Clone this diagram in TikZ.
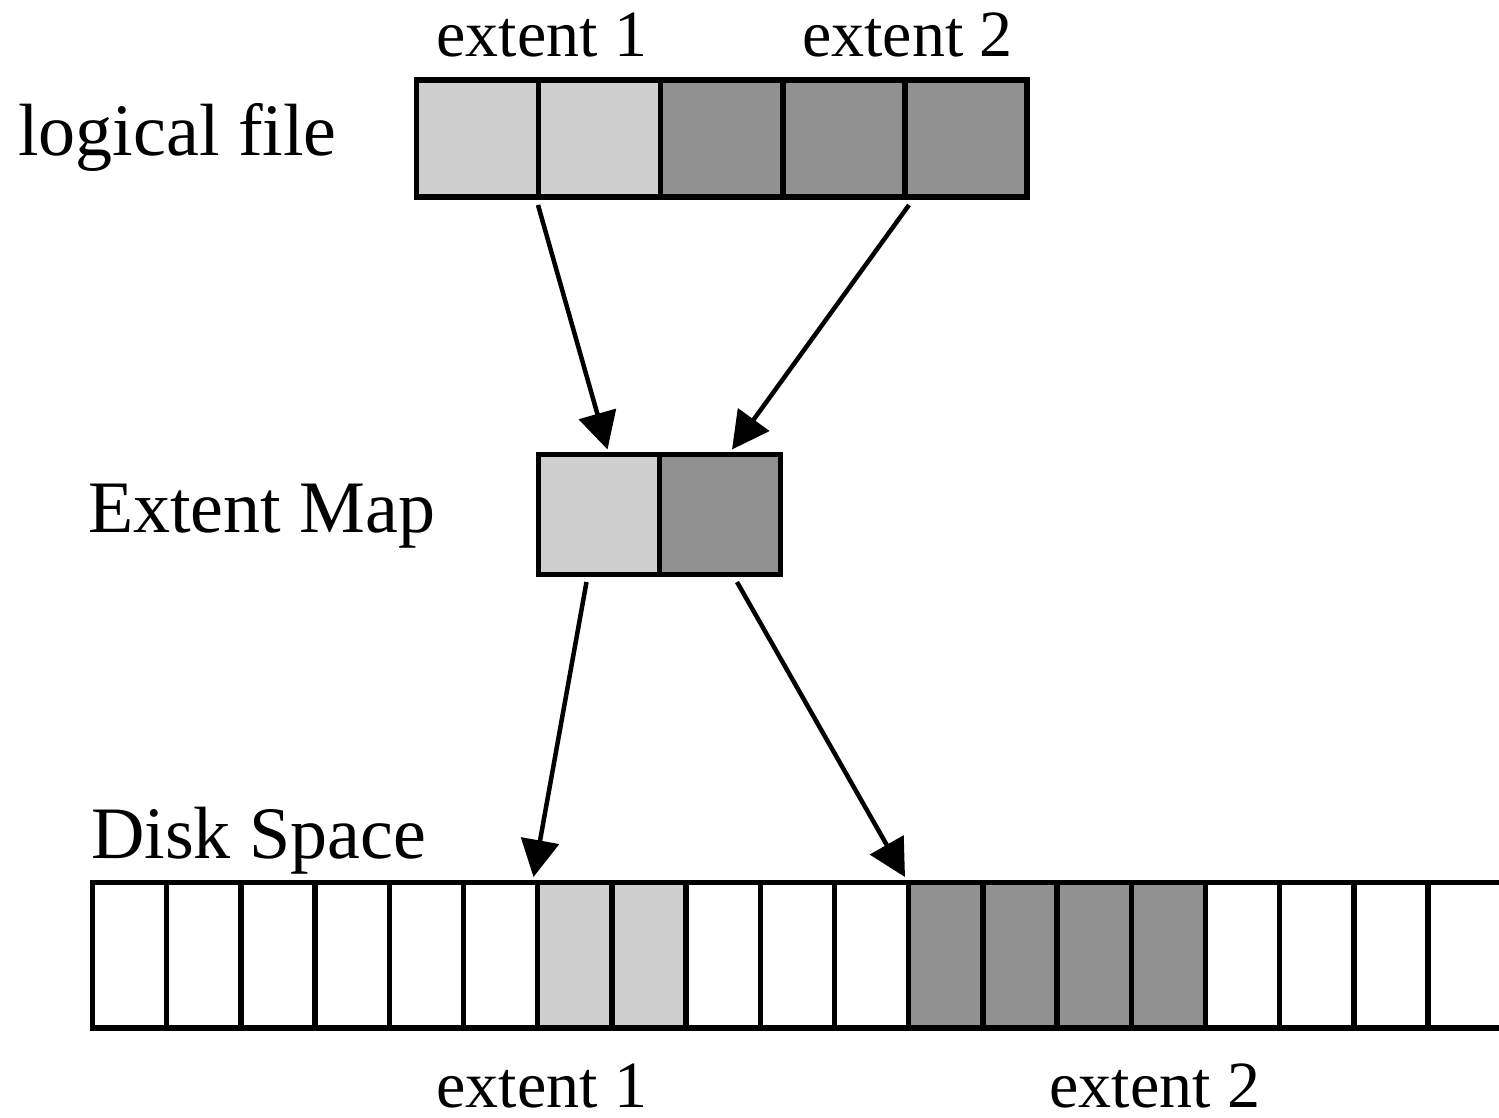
\documentclass[tikz,border=0pt]{standalone}
\usepackage{fontspec}
\setmainfont{Liberation Serif}
\usetikzlibrary{arrows.meta}
\definecolor{lightcell}{gray}{0.81}
\definecolor{darkcell}{gray}{0.57}
\begin{document}
\begin{tikzpicture}[x=1pt,y=-1pt,
  cell/.style={draw=black, line width=5.5pt, rectangle, inner sep=0pt, outer sep=0pt},
  filecell/.style={cell, minimum width=122.1pt, minimum height=117pt},
  mapcell/.style={cell, minimum width=121pt, minimum height=120pt},
  diskcell/.style={cell, minimum width=74.2pt, minimum height=145.5pt},
  link/.style={line width=4.5pt, -{Triangle[length=37pt,width=38pt]}},
  biglabel/.style={font=\fontsize{74}{80}\selectfont, inner sep=0pt, anchor=base west},
  extlabel/.style={font=\fontsize{66}{72}\selectfont, inner sep=0pt, anchor=base}]
\useasboundingbox (0,0) rectangle (1499,1117);

% logical file: two blocks of extent 1, three of extent 2
\foreach \i/\c in {1/lightcell,2/lightcell,3/darkcell,4/darkcell,5/darkcell}
  \node[filecell, fill=\c] (lf\i) at ({416.5+122.1*(\i-0.5)},138.5) {};

% extent map: one entry per extent
\node[mapcell, fill=lightcell] (em1) at (599,514.5) {};
\node[mapcell, fill=darkcell]  (em2) at (720,514.5) {};

% disk blocks
\foreach \i/\c in {0/white,1/white,2/white,3/white,4/white,5/white,
                   6/lightcell,7/lightcell,8/white,9/white,10/white,
                   11/darkcell,12/darkcell,13/darkcell,14/darkcell,
                   15/white,16/white,17/white,18/white}
  \node[diskcell, fill=\c] (dk\i) at ({92.5+74.2*(\i+0.5)},955.25) {};

% labels
\node[extlabel] (lx1) at (542,56) {extent 1};
\node[extlabel] (lx2) at (907.5,56) {extent 2};
\node[biglabel] (lfile) at (18,155) {logical file};
\node[biglabel] (lmap) at (88,532.5) {Extent Map};
\node[biglabel] (ldisk) at (91,858) {Disk Space};
\node[extlabel] (dx1) at (542,1107) {extent 1};
\node[extlabel] (dx2) at (1155,1107) {extent 2};

% arrow end points
\coordinate (a1s) at (538,205);
\coordinate (a1e) at (607.5,449.5);
\coordinate (a2s) at (909,205);
\coordinate (a2e) at (732,449.5);
\coordinate (a3s) at (586.5,582);
\coordinate (a3e) at (533.5,877);
\coordinate (a4s) at (737,582);
\coordinate (a4e) at (905,877);

\draw[link] (a1s) -- (a1e);
\draw[link] (a2s) -- (a2e);
\draw[link] (a3s) -- (a3e);
\draw[link] (a4s) -- (a4e);
\end{tikzpicture}
\end{document}
